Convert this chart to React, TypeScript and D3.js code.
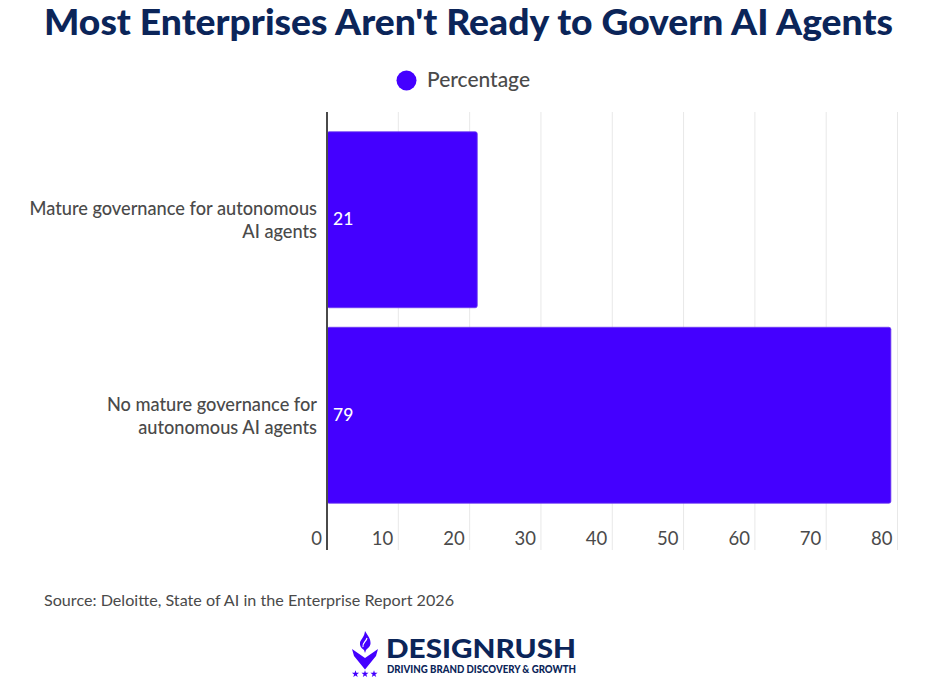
import React from "react";
import * as d3 from "d3";

const categories = ["Mature governance for autonomous|AI agents", "No mature governance for|autonomous AI agents"];
const values = [21, 79];
const ticks = [0, 10, 20, 30, 40, 50, 60, 70, 80];
const title = "Most Enterprises Aren't Ready to Govern AI Agents";
const seriesName = "Percentage";
const source = "Source: Deloitte, State of AI in the Enterprise Report 2026";

const FONT = "Lato, 'Noto Sans', sans-serif";
const BLUE = "#4400FF";
const GREY = "#4a4a4a";
const NAVY = "#0b2559";

export default function App() {
  const x = d3.scaleLinear().domain([0, 80]).range([327, 897.5]);
  const y = d3.scaleBand().domain(categories).range([122, 513]).paddingInner(0.1).paddingOuter(0.05);
  const star = d3.symbol().type(d3.symbolStar).size(16);
  return (
    <svg width={927} height={677} viewBox="0 0 927 677" style={{ position: "absolute", left: 0, top: 0, background: "#fff" }} fontFamily={FONT}>
      <text x={468.5} y={35} textAnchor="middle" fontSize={35.5} fontWeight={900} fill={NAVY} textLength={849} lengthAdjust="spacingAndGlyphs">{title}</text>
      <circle cx={406.5} cy={80.5} r={10} fill={BLUE} />
      <text x={427} y={87} fontSize={20.5} fontWeight={500} fill={GREY} textLength={103} lengthAdjust="spacingAndGlyphs">{seriesName}</text>

      {ticks.slice(1).map((t) => (
        <line key={t} x1={x(t)} x2={x(t)} y1={112} y2={550} stroke="#e8e8e8" strokeWidth={1} />
      ))}
      {categories.map((c, i) => (
        <rect key={c} x={x(0)} y={y(c)!} width={x(values[i]) - x(0) + 0.5} height={y.bandwidth()} rx={2} fill={BLUE} stroke="#6f3cf0" strokeWidth={0.8} />
      ))}
      <line x1={x(0)} x2={x(0)} y1={112} y2={550} stroke={GREY} strokeWidth={2} />

      {categories.map((c, i) => {
        const cy = y(c)! + y.bandwidth() / 2;
        const [a, b] = c.split("|");
        return (
          <g key={c}>
            <text x={317} y={cy - 4.5} textAnchor="end" fontSize={18.2} fontWeight={500} fill={GREY}>{a}</text>
            <text x={317} y={cy + 18.5} textAnchor="end" fontSize={18.2} fontWeight={500} fill={GREY}>{b}</text>
            <text x={x(0) + 6} y={cy + 5.5} fontSize={17.5} fontWeight={500} fill="#fff">{values[i]}</text>
          </g>
        );
      })}

      {ticks.map((t) => (
        <text key={t} x={x(t) - 5} y={545} textAnchor="end" fontSize={18.5} fontWeight={400} fill={GREY}>{t}</text>
      ))}

      <text x={44} y={606} fontSize={16} fill={GREY} textLength={410} lengthAdjust="spacingAndGlyphs">{source}</text>

      <g fill={BLUE}>
        <path d="M352 649 L365 658 L378 649 L376 656 L365 669.5 L354 656 Z" />
        <path d="M365 631 C368 636 371 639 370.5 644 C370 647 367.5 648 366 650 L365 653 L364 650 C361 648 359.5 646 360 642.5 C360.5 640 364.5 637 365 631 Z" />
        {[355.5, 365, 374].map((sx) => (
          <path key={sx} d={star()!} transform={`translate(${sx},674)`} />
        ))}
      </g>
      <path d="M363 647 C362 643 366 642 367 638" stroke="#fff" strokeWidth={1.2} fill="none" />
      <text x={386} y={658} fontSize={27} fontWeight={900} fill={NAVY} textLength={190} lengthAdjust="spacingAndGlyphs">DESIGNRUSH</text>
      <text x={387} y={672.5} fontSize={10.5} fontWeight={900} fill={NAVY} textLength={189} lengthAdjust="spacingAndGlyphs">DRIVING BRAND DISCOVERY &amp; GROWTH</text>
    </svg>
  );
}
